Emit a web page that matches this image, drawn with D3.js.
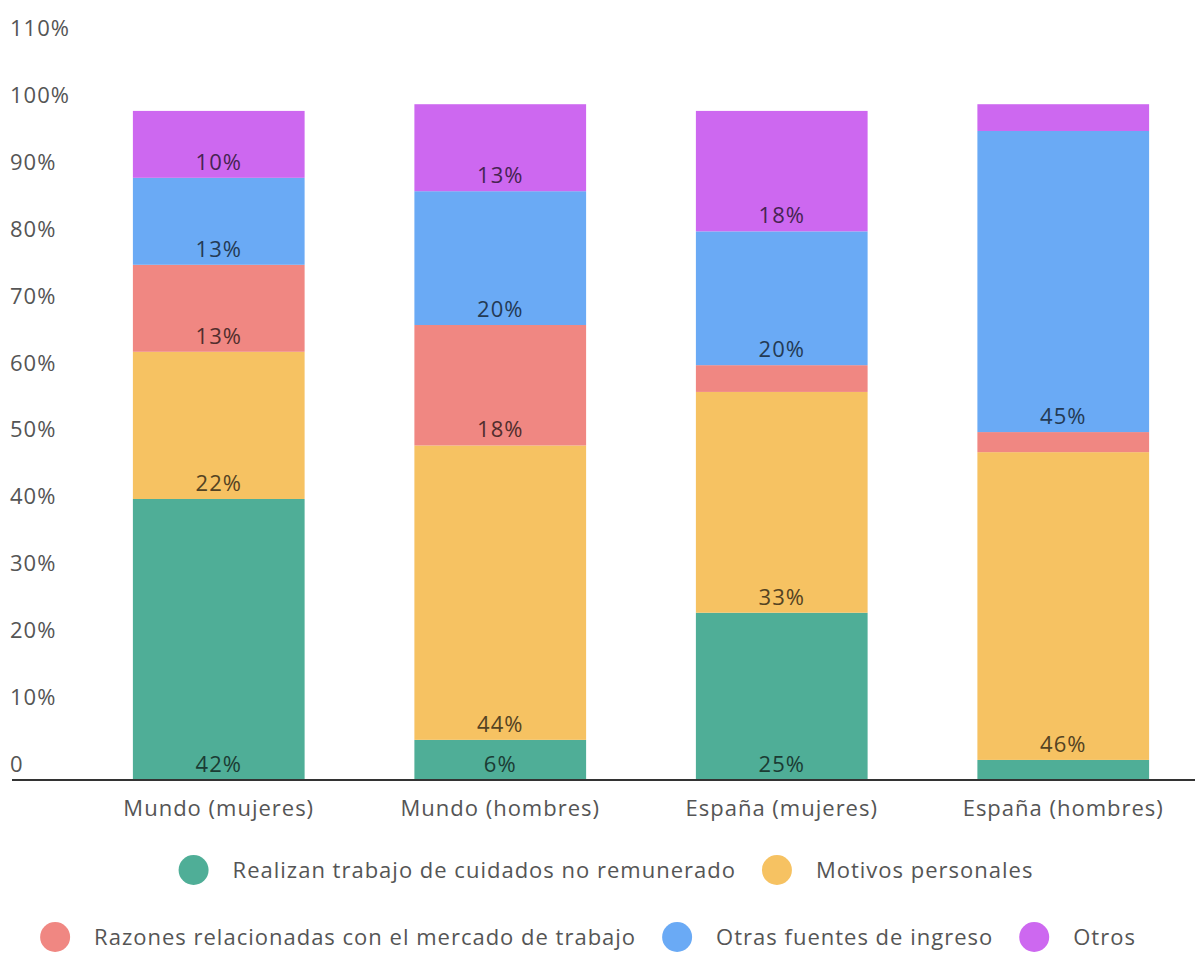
<!DOCTYPE html>
<html>
<head>
<meta charset="utf-8">
<script src="https://cdn.jsdelivr.net/npm/d3@7"></script>
<style>
  body { margin: 0; background: #fff; }
  svg { display: block; font-family: "Open Sans", "Noto Sans", sans-serif; letter-spacing: 1px; }
</style>
</head>
<body>
<svg id="svg" width="1195" height="980"></svg>
<script>
var categories = ["Mundo (mujeres)", "Mundo (hombres)", "España (mujeres)", "España (hombres)"];
var seriesNames = ["Realizan trabajo de cuidados no remunerado", "Motivos personales",
  "Razones relacionadas con el mercado de trabajo", "Otras fuentes de ingreso", "Otros"];
var cuidados = [42, 6, 25, 3];
var personales = [22, 44, 33, 46];
var mercado = [13, 18, 4, 3];
var ingreso = [13, 20, 20, 45];
var otros = [10, 13, 18, 4];
var colors = ["#4fae97", "#f6c262", "#f08782", "#6aaaf5", "#cd68f0"];
var yTicks = [0, 10, 20, 30, 40, 50, 60, 70, 80, 90, 100, 110];

var values = [cuidados, personales, mercado, ingreso, otros];
var rows = categories.map(function(c, i) {
  var r = { cat: c };
  seriesNames.forEach(function(s, j) { r[s] = values[j][i]; });
  return r;
});

var svg = d3.select("#svg");
var fs = 22;

var x = d3.scaleBand().domain(categories).range([78, 1204])
  .paddingInner(0.39).paddingOuter(0.195);
var y = d3.scaleLinear().domain([0, 110]).range([780, 44]);

var stack = d3.stack().keys(seriesNames)(rows);

// y tick labels, sitting just above their value
svg.append("g").selectAll("text").data(yTicks).enter().append("text")
  .attr("x", 10)
  .attr("y", function(d) { return y(d) - 8; })
  .attr("fill", "#555")
  .attr("font-size", fs)
  .text(function(d) { return d === 0 ? "0" : d + "%"; });

// bars
var layers = svg.append("g").selectAll("g").data(stack).enter().append("g")
  .attr("fill", function(d, i) { return colors[i]; });
layers.selectAll("rect").data(function(d) { return d; }).enter().append("rect")
  .attr("x", function(d) { return x(d.data.cat); })
  .attr("width", x.bandwidth())
  .attr("y", function(d) { return y(d[1]); })
  .attr("height", function(d) { return y(d[0]) - y(d[1]); });

// value labels at the bottom of each segment
stack.forEach(function(layer, i) {
  svg.append("g").selectAll("text").data(layer.filter(function(d) { return d[1] - d[0] >= 5; }))
    .enter().append("text")
    .attr("x", function(d) { return x(d.data.cat) + x.bandwidth() / 2; })
    .attr("y", function(d) { return y(d[0]) - 8; })
    .attr("text-anchor", "middle")
    .attr("font-size", fs)
    .attr("fill", d3.color(colors[i]).darker(3))
    .text(function(d) { return (d[1] - d[0]) + "%"; });
});

// baseline
svg.append("line")
  .attr("x1", 12).attr("x2", 1195)
  .attr("y1", y(0)).attr("y2", y(0))
  .attr("stroke", "#333").attr("stroke-width", 2);

// category labels
svg.append("g").selectAll("text").data(categories).enter().append("text")
  .attr("x", function(d) { return x(d) + x.bandwidth() / 2; })
  .attr("y", 816)
  .attr("text-anchor", "middle")
  .attr("fill", "#555")
  .attr("font-size", fs)
  .text(function(d) { return d; });

// legend, two rows
var legendRows = [[0, 1], [2, 3, 4]];
var legendY = [870, 937];
var legendMid = [606, 588];
legendRows.forEach(function(items, r) {
  var g = svg.append("g");
  var cx = 0;
  items.forEach(function(k, n) {
    if (n > 0) cx += 26;
    g.append("circle").attr("cx", cx + 15).attr("cy", legendY[r]).attr("r", 15)
      .attr("fill", colors[k]);
    cx += 30 + 24;
    var t = g.append("text").attr("x", cx).attr("y", legendY[r] + 8)
      .attr("fill", "#555").attr("font-size", fs).text(seriesNames[k]);
    cx += t.node().getComputedTextLength();
  });
  g.attr("transform", "translate(" + (legendMid[r] - cx / 2) + ",0)");
});
</script>
</body>
</html>
